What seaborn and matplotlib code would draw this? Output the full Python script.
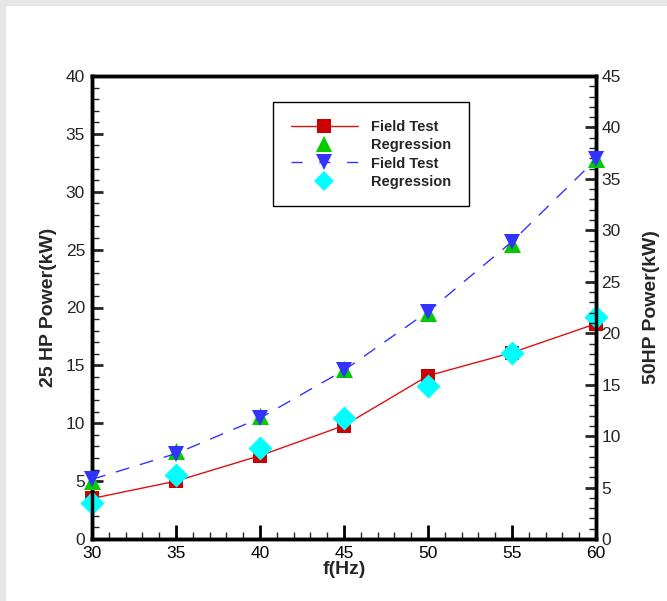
import matplotlib
matplotlib.use("Agg")
import matplotlib.pyplot as plt
from matplotlib.lines import Line2D
from matplotlib.patches import Rectangle
from matplotlib.ticker import MultipleLocator
import seaborn as sns
import pandas as pd

freq = [30, 35, 40, 45, 50, 55, 60]
hp25_field = [3.5, 5.0, 7.2, 9.8, 14.1, 16.1, 18.6]
hp25_regr = [3.1, 5.5, 7.85, 10.45, 13.2, 16.1, 19.2]
hp50_field = [5.8, 8.3, 11.75, 16.4, 22.1, 28.9, 36.9]
hp50_regr = [5.6, 8.6, 11.95, 16.5, 22.0, 28.7, 36.9]

sns.set_theme(style="white")
plt.rcParams['font.family'] = ['Liberation Sans', 'DejaVu Sans']

fig = plt.figure(figsize=(6.67, 6.01), dpi=100)
fig.patches.append(Rectangle((0, 1 - 5 / 601), 1, 5 / 601, transform=fig.transFigure,
                             color='#e6e6e6', zorder=0))
fig.patches.append(Rectangle((0, 0), 5 / 667, 1, transform=fig.transFigure,
                             color='#e6e6e6', zorder=0))
ax = fig.add_axes([92 / 667, 1 - 539 / 601, (596 - 92) / 667, (539 - 76) / 601])
ax2 = ax.twinx()

df = pd.DataFrame({"f": freq, "f25": hp25_field, "r25": hp25_regr,
                   "f50": hp50_field, "r50": hp50_regr})

sns.lineplot(data=df, x="f", y="f25", ax=ax, color="#e01010", lw=1.0,
             marker="s", markersize=10, markeredgewidth=0, markerfacecolor="#cc0000",
             zorder=3, clip_on=False)
sns.scatterplot(data=df, x="f", y="r25", ax=ax, color="#00ffff", marker="D",
                s=150, linewidth=0, zorder=4, clip_on=False)
sns.scatterplot(data=df, x="f", y="r50", ax=ax2, color="#00cc00", marker="^",
                s=150, linewidth=0, zorder=3, clip_on=False)
sns.lineplot(data=df, x="f", y="f50", ax=ax2, color="#3333ff", lw=1.0,
             marker="v", markersize=11, markeredgewidth=0, markerfacecolor="#3333ff",
             zorder=4, clip_on=False)
for ln in ax2.lines:
    ln.set_dashes([10, 8])

ax.set_xlim(30, 60)
ax.set_ylim(0, 40)
ax2.set_ylim(0, 45)

ax.xaxis.set_major_locator(MultipleLocator(5))
ax.xaxis.set_minor_locator(MultipleLocator(1))
ax.yaxis.set_major_locator(MultipleLocator(5))
ax.yaxis.set_minor_locator(MultipleLocator(1))
ax2.yaxis.set_major_locator(MultipleLocator(5))
ax2.yaxis.set_minor_locator(MultipleLocator(1))

ax.tick_params(axis='x', which='major', direction='in', length=10, width=2,
               labelsize=12.5, pad=5, top=False, bottom=True, colors='black')
ax.tick_params(axis='x', which='minor', direction='in', length=5, width=1,
               top=False, bottom=True)
ax.tick_params(axis='y', which='major', direction='in', length=8, width=2,
               labelsize=12.5, pad=5, left=True, right=False)
ax.tick_params(axis='y', which='minor', direction='in', length=5, width=1,
               left=True, right=False)
ax2.tick_params(axis='y', which='major', direction='in', length=8, width=2,
                labelsize=12.5, pad=4, right=True, left=False)
ax2.tick_params(axis='y', which='minor', direction='in', length=5, width=1,
                right=True, left=False)

for a in (ax, ax2):
    for s in a.spines.values():
        s.set_linewidth(2.5)
        s.set_color('black')
        s.set_visible(True)

ax.set_xlabel("f(Hz)", fontsize=14, fontweight='bold', labelpad=0)
ax.set_ylabel("25 HP Power(kW)", fontsize=14, fontweight='bold', labelpad=6)
ax2.set_ylabel("50HP Power(kW)", fontsize=14, fontweight='bold', labelpad=16)

handles = [
    Line2D([], [], color="#e01010", lw=1.0, marker="s", markersize=10,
           markerfacecolor="#cc0000", markeredgewidth=0),
    Line2D([], [], color="none", marker="^", markersize=11,
           markerfacecolor="#00cc00", markeredgewidth=0),
    Line2D([], [], color="#3333ff", lw=1.0, dashes=[8, 12], marker="v", markersize=11,
           markerfacecolor="#3333ff", markeredgewidth=0),
    Line2D([], [], color="none", marker="D", markersize=10,
           markerfacecolor="#00ffff", markeredgewidth=0),
]
labels = ["Field Test", "Regression", "Field Test", "Regression"]
leg = ax2.legend(handles, labels, loc='upper left',
                 bbox_to_anchor=((266 - 92) / 504, 1 - (95 - 76) / 463),
                 frameon=True, fancybox=False, edgecolor='black', framealpha=1,
                 handlelength=4.6, handletextpad=0.9, labelspacing=0.3,
                 borderpad=1.2, prop={'weight': 'bold', 'size': 10.5})
leg.get_frame().set_linewidth(1.0)
leg.set_zorder(10)

fig.savefig("out.png", dpi=100)
